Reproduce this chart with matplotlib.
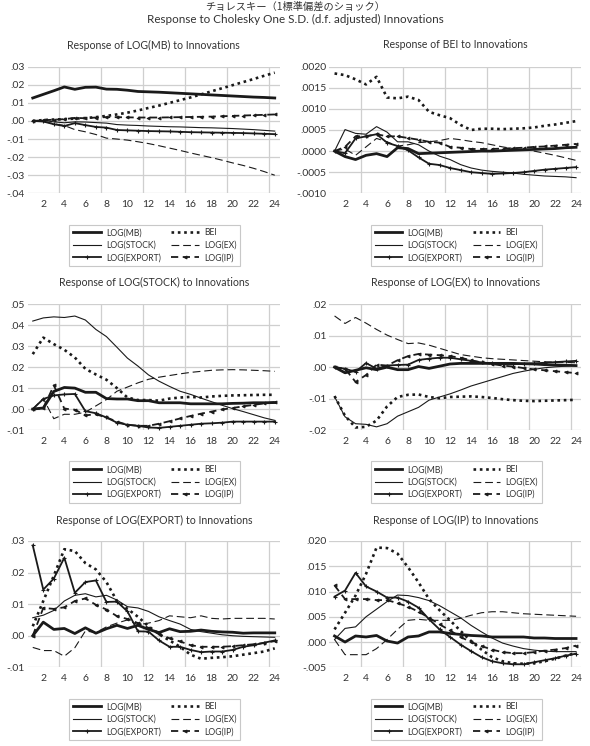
import matplotlib
matplotlib.use('Agg')
import matplotlib.pyplot as plt
from matplotlib.ticker import FixedLocator, FixedFormatter

plt.rcParams['font.family'] = ['Lato', 'DejaVu Sans']

# ---------------- data ----------------
periods = list(range(1, 25))
x_tick_values = list(range(2, 25, 2))
x_tick_labels = [str(v) for v in x_tick_values]

series_names = ['LOG(MB)', 'BEI', 'LOG(STOCK)', 'LOG(EX)', 'LOG(EXPORT)', 'LOG(IP)']

panel_titles = ['Response of LOG(MB) to Innovations',
                'Response of BEI to Innovations',
                'Response of LOG(STOCK) to Innovations',
                'Response of LOG(EX) to Innovations',
                'Response of LOG(EXPORT) to Innovations',
                'Response of LOG(IP) to Innovations']

# Panel 1: response of LOG(MB)
mb_mb = [0.0127, 0.0147, 0.0167, 0.0188, 0.0175, 0.0186, 0.0187, 0.0176, 0.0175, 0.0170, 0.0163, 0.0161,
         0.0159, 0.0156, 0.0153, 0.0150, 0.0147, 0.0144, 0.0141, 0.0138, 0.0135, 0.0132, 0.0130, 0.0127]
mb_bei = [0.0, 0.0005, 0.0008, 0.0010, 0.0013, 0.0016, 0.0021, 0.0028, 0.0036, 0.0046, 0.0058, 0.0072,
          0.0085, 0.0100, 0.0115, 0.0130, 0.0147, 0.0164, 0.0181, 0.0198, 0.0215, 0.0232, 0.0250, 0.0267]
mb_stock = [0.0, 0.0003, -0.0005, -0.0010, -0.0005, -0.0006, -0.0009, -0.0012, -0.0020, -0.0023, -0.0025, -0.0028,
            -0.0030, -0.0032, -0.0033, -0.0035, -0.0037, -0.0038, -0.0040, -0.0042, -0.0045, -0.0048, -0.0052, -0.0056]
mb_ex = [0.0, -0.0003, -0.0015, -0.0025, -0.0048, -0.0060, -0.0075, -0.0095, -0.0100, -0.0106, -0.0115, -0.0125,
         -0.0137, -0.0150, -0.0163, -0.0177, -0.0190, -0.0203, -0.0217, -0.0232, -0.0246, -0.0262, -0.0280, -0.0300]
mb_export = [0.0, -0.0003, -0.0018, -0.0028, -0.0012, -0.0023, -0.0033, -0.0037, -0.0050, -0.0052, -0.0054, -0.0056,
             -0.0057, -0.0058, -0.0060, -0.0062, -0.0063, -0.0064, -0.0065, -0.0066, -0.0067, -0.0069, -0.0071, -0.0073]
mb_ip = [0.0, 0.0004, 0.0007, 0.0010, 0.0017, 0.0015, 0.0019, 0.0021, 0.0021, 0.0020, 0.0019, 0.0019,
         0.0019, 0.0020, 0.0021, 0.0022, 0.0023, 0.0024, 0.0026, 0.0028, 0.0030, 0.0032, 0.0034, 0.0036]

# Panel 2: response of BEI
bei_mb = [0.0, -0.00013, -0.00020, -0.00010, -0.00006, -0.00013, 0.00008, 0.00006, -0.00006, -0.00005, -0.00004, -0.00003,
          -0.00002, -0.00001, 0.0, 0.0, 0.00001, 0.00002, 0.00003, 0.00004, 0.00005, 0.00006, 0.00008, 0.00009]
bei_bei = [0.00184, 0.00180, 0.00170, 0.00158, 0.00176, 0.00127, 0.00125, 0.00129, 0.00121, 0.00093, 0.00085, 0.00078,
           0.00062, 0.00050, 0.00053, 0.00053, 0.00052, 0.00053, 0.00054, 0.00056, 0.00060, 0.00063, 0.00067, 0.00071]
bei_stock = [0.0, 0.00051, 0.00042, 0.00040, 0.00058, 0.00045, 0.00022, 0.00022, 0.00015, 0.0, -0.00012, -0.00020,
             -0.00032, -0.00040, -0.00045, -0.00048, -0.00050, -0.00052, -0.00055, -0.00057, -0.00059, -0.00060, -0.00061, -0.00063]
bei_ex = [0.0, 0.00005, -0.00010, 0.00010, 0.00030, 0.00022, 0.00012, 0.00015, 0.00020, 0.00022, 0.00025, 0.00030,
          0.00027, 0.00023, 0.00020, 0.00015, 0.00010, 0.00006, 0.00003, 0.0, -0.00005, -0.00010, -0.00016, -0.00022]
bei_export = [0.0, -0.00005, 0.00030, 0.00035, 0.00040, 0.00020, 0.00012, 0.00002, -0.00015, -0.00030, -0.00033, -0.00040,
              -0.00045, -0.00050, -0.00052, -0.00054, -0.00053, -0.00052, -0.00050, -0.00047, -0.00044, -0.00042, -0.00040, -0.00038]
bei_ip = [0.0, 0.00010, 0.00035, 0.00035, 0.00040, 0.00035, 0.00035, 0.00031, 0.00027, 0.00022, 0.00020, 0.00010,
          0.00008, 0.00005, 0.00005, 0.00005, 0.00006, 0.00007, 0.00008, 0.00010, 0.00011, 0.00013, 0.00015, 0.00017]

# Panel 3: response of LOG(STOCK)
stock_mb = [0.0, 0.0005, 0.0084, 0.0103, 0.0100, 0.0080, 0.0080, 0.0050, 0.0048, 0.0048, 0.0040, 0.0040,
            0.0030, 0.0030, 0.0030, 0.0025, 0.0025, 0.0025, 0.0025, 0.0027, 0.0028, 0.0030, 0.0030, 0.0031]
stock_bei = [0.0262, 0.0341, 0.0310, 0.0283, 0.0246, 0.0192, 0.0165, 0.0140, 0.0100, 0.0055, 0.0043, 0.0043,
             0.0040, 0.0050, 0.0055, 0.0058, 0.0055, 0.0060, 0.0063, 0.0065, 0.0066, 0.0067, 0.0068, 0.0068]
stock_stock = [0.0420, 0.0435, 0.0440, 0.0437, 0.0444, 0.0425, 0.0380, 0.0346, 0.0295, 0.0243, 0.0205, 0.0163,
               0.0133, 0.0108, 0.0085, 0.0070, 0.0052, 0.0035, 0.0018, 0.0002, -0.0012, -0.0027, -0.0042, -0.0054]
stock_ex = [0.0, 0.0050, -0.0046, -0.0025, -0.0025, -0.0015, 0.0015, 0.0045, 0.0085, 0.0105, 0.0125, 0.0142,
            0.0152, 0.0160, 0.0168, 0.0175, 0.0180, 0.0185, 0.0187, 0.0188, 0.0187, 0.0185, 0.0183, 0.0180]
stock_export = [0.0, 0.0048, 0.0065, 0.0070, 0.0072, -0.0010, -0.0020, -0.0040, -0.0065, -0.0075, -0.0080, -0.0088,
                -0.0090, -0.0085, -0.0080, -0.0075, -0.0070, -0.0068, -0.0065, -0.0060, -0.0060, -0.0060, -0.0060, -0.0060]
stock_ip = [0.0, 0.0003, 0.0113, 0.0002, -0.0003, -0.0030, -0.0025, -0.0040, -0.0060, -0.0075, -0.0080, -0.0080,
            -0.0070, -0.0058, -0.0045, -0.0033, -0.0022, -0.0012, -0.0002, 0.0005, 0.0013, 0.0020, 0.0027, 0.0033]

# Panel 4: response of LOG(EX)
ex_mb = [0.0, -0.0018, -0.0010, -0.0002, -0.0008, 0.0, -0.0008, -0.0008, 0.0002, -0.0004, 0.0003, 0.0010,
         0.0012, 0.0012, 0.0012, 0.0012, 0.0012, 0.0012, 0.0011, 0.0010, 0.0008, 0.0007, 0.0006, 0.0005]
ex_bei = [-0.0092, -0.0155, -0.0192, -0.0190, -0.0170, -0.0125, -0.0095, -0.0088, -0.0087, -0.0095, -0.0099, -0.0095,
          -0.0094, -0.0093, -0.0095, -0.0098, -0.0102, -0.0105, -0.0107, -0.0108, -0.0107, -0.0106, -0.0105, -0.0104]
ex_stock = [-0.0094, -0.0158, -0.0180, -0.0182, -0.0190, -0.0180, -0.0156, -0.0142, -0.0128, -0.0105, -0.0095, -0.0085,
            -0.0073, -0.0060, -0.0050, -0.0040, -0.0030, -0.0020, -0.0013, -0.0007, -0.0002, 0.0001, 0.0003, 0.0005]
ex_ex = [0.0163, 0.0139, 0.0158, 0.0140, 0.0120, 0.0102, 0.0088, 0.0075, 0.0077, 0.0070, 0.0060, 0.0050,
         0.0040, 0.0035, 0.0030, 0.0027, 0.0025, 0.0023, 0.0021, 0.0019, 0.0017, 0.0016, 0.0015, 0.0014]
ex_export = [0.0, -0.0005, -0.0015, 0.0013, -0.0005, 0.0005, 0.0007, 0.0008, 0.0023, 0.0027, 0.0030, 0.0030,
             0.0025, 0.0020, 0.0015, 0.0012, 0.0010, 0.0010, 0.0011, 0.0012, 0.0014, 0.0016, 0.0018, 0.0020]
ex_ip = [0.0, -0.0005, -0.0047, -0.0025, 0.0008, 0.0005, 0.0022, 0.0035, 0.0042, 0.0040, 0.0038, 0.0035,
         0.0030, 0.0022, 0.0015, 0.0010, 0.0005, 0.0002, -0.0003, -0.0007, -0.0010, -0.0013, -0.0016, -0.0019]

# Panel 5: response of LOG(EXPORT)
export_mb = [0.0, 0.0043, 0.0020, 0.0023, 0.0007, 0.0025, 0.0008, 0.0022, 0.0033, 0.0023, 0.0033, 0.0020,
             0.0010, 0.0022, 0.0013, 0.0014, 0.0018, 0.0014, 0.0012, 0.0011, 0.0008, 0.0009, 0.0009, 0.0009]
export_bei = [0.0030, 0.0110, 0.0190, 0.0274, 0.0268, 0.0230, 0.0210, 0.0170, 0.0110, 0.0085, 0.0060, 0.0030,
              0.0005, -0.0015, -0.0035, -0.0060, -0.0073, -0.0070, -0.0068, -0.0065, -0.0060, -0.0055, -0.0050, -0.0040]
export_stock = [0.0057, 0.0065, 0.0080, 0.0110, 0.0128, 0.0133, 0.0123, 0.0128, 0.0113, 0.0092, 0.0088, 0.0077,
                0.0060, 0.0048, 0.0037, 0.0020, 0.0013, 0.0008, 0.0003, 0.0, -0.0002, -0.0003, -0.0004, -0.0005]
export_ex = [-0.0037, -0.0047, -0.0047, -0.0065, -0.0038, 0.0015, 0.0010, 0.0028, 0.0040, 0.0050, 0.0035, 0.0040,
             0.0048, 0.0063, 0.0060, 0.0057, 0.0063, 0.0055, 0.0053, 0.0055, 0.0055, 0.0055, 0.0055, 0.0053]
export_export = [0.0286, 0.0146, 0.0181, 0.0247, 0.0136, 0.0170, 0.0175, 0.0107, 0.0108, 0.0077, 0.0014, 0.0013,
                 -0.0015, -0.0035, -0.0035, -0.0045, -0.0052, -0.0050, -0.0050, -0.0045, -0.0035, -0.0030, -0.0022, -0.0015]
export_ip = [0.0, 0.0088, 0.0085, 0.0090, 0.0110, 0.0118, 0.0098, 0.0083, 0.0062, 0.0053, 0.0040, 0.0025,
             0.0005, -0.0008, -0.0018, -0.0030, -0.0035, -0.0035, -0.0035, -0.0033, -0.0030, -0.0027, -0.0023, -0.0017]

# Panel 6: response of LOG(IP)
ip_mb = [0.0012, 0.0, 0.0012, 0.0010, 0.0013, 0.0002, -0.0002, 0.0010, 0.0012, 0.0020, 0.0020, 0.0017,
         0.0015, 0.0013, 0.0012, 0.0010, 0.0010, 0.0010, 0.0010, 0.0008, 0.0008, 0.0007, 0.0007, 0.0007]
ip_bei = [0.0025, 0.0058, 0.0092, 0.0135, 0.0187, 0.0186, 0.0175, 0.0148, 0.0118, 0.0085, 0.0063, 0.0043,
          0.0022, 0.0002, -0.0015, -0.0030, -0.0038, -0.0042, -0.0043, -0.0042, -0.0038, -0.0033, -0.0027, -0.0022]
ip_stock = [0.0005, 0.0027, 0.0030, 0.0050, 0.0065, 0.0080, 0.0093, 0.0092, 0.0088, 0.0082, 0.0072, 0.0060,
            0.0048, 0.0033, 0.0020, 0.0008, -0.0002, -0.0008, -0.0013, -0.0016, -0.0018, -0.0019, -0.0019, -0.0019]
ip_ex = [0.0005, -0.0025, -0.0025, -0.0025, -0.0013, 0.0005, 0.0025, 0.0043, 0.0045, 0.0043, 0.0043, 0.0043,
         0.0047, 0.0053, 0.0058, 0.0060, 0.0060, 0.0058, 0.0056, 0.0055, 0.0054, 0.0053, 0.0052, 0.0051]
ip_export = [0.0090, 0.0102, 0.0137, 0.0110, 0.0100, 0.0088, 0.0088, 0.0080, 0.0068, 0.0045, 0.0025, 0.0010,
             -0.0005, -0.0018, -0.0030, -0.0038, -0.0042, -0.0044, -0.0044, -0.0040, -0.0036, -0.0032, -0.0027, -0.0023]
ip_ip = [0.0112, 0.0085, 0.0085, 0.0085, 0.0083, 0.0083, 0.0077, 0.0070, 0.0060, 0.0048, 0.0035, 0.0023,
         0.0010, 0.0, -0.0008, -0.0015, -0.0020, -0.0022, -0.0022, -0.0020, -0.0017, -0.0015, -0.0012, -0.0007]

panel_series = [
    [mb_mb, mb_bei, mb_stock, mb_ex, mb_export, mb_ip],
    [bei_mb, bei_bei, bei_stock, bei_ex, bei_export, bei_ip],
    [stock_mb, stock_bei, stock_stock, stock_ex, stock_export, stock_ip],
    [ex_mb, ex_bei, ex_stock, ex_ex, ex_export, ex_ip],
    [export_mb, export_bei, export_stock, export_ex, export_export, export_ip],
    [ip_mb, ip_bei, ip_stock, ip_ex, ip_export, ip_ip],
]

y_ticks = [
    [-0.04, -0.03, -0.02, -0.01, 0.00, 0.01, 0.02, 0.03],
    [-0.0010, -0.0005, 0.0, 0.0005, 0.0010, 0.0015, 0.0020],
    [-0.01, 0.00, 0.01, 0.02, 0.03, 0.04, 0.05],
    [-0.02, -0.01, 0.00, 0.01, 0.02],
    [-0.01, 0.00, 0.01, 0.02, 0.03],
    [-0.005, 0.000, 0.005, 0.010, 0.015, 0.020],
]
y_tick_labels = [
    ['-.04', '-.03', '-.02', '-.01', '.00', '.01', '.02', '.03'],
    ['-.0010', '-.0005', '.0000', '.0005', '.0010', '.0015', '.0020'],
    ['-.01', '.00', '.01', '.02', '.03', '.04', '.05'],
    ['-.02', '-.01', '.00', '.01', '.02'],
    ['-.01', '.00', '.01', '.02', '.03'],
    ['-.005', '.000', '.005', '.010', '.015', '.020'],
]

# ---------------- styles ----------------
LC = '#1a1a1a'
styles = {
    'LOG(MB)': dict(color=LC, lw=2.0, ls='-'),
    'BEI': dict(color=LC, lw=1.9, ls=(0, (1, 1.4)), dash_capstyle='butt'),
    'LOG(STOCK)': dict(color=LC, lw=0.8, ls='-'),
    'LOG(EX)': dict(color=LC, lw=0.8, ls=(0, (7, 3.5))),
    'LOG(EXPORT)': dict(color=LC, lw=1.3, ls='-', marker='+', ms=3.5, mew=0.8),
    'LOG(IP)': dict(color=LC, lw=1.3, ls=(0, (4, 2.5)), marker='<', ms=2.2, mew=0.6),
}

W, H = 590, 746
fig = plt.figure(figsize=(W / 100, H / 100), dpi=100)

col_x = [(27.5, 280.0), (329.3, 581.3)]
row_y = [(66.7, 193.3), (304.3, 430.0), (541.0, 667.3)]
title_y = [45, 282, 520]

GRID = '#cfcfcf'

for i in range(6):
    r, c = divmod(i, 2)
    x0, x1 = col_x[c]
    y0, y1 = row_y[r]
    ax = fig.add_axes([x0 / W, 1 - y1 / H, (x1 - x0) / W, (y1 - y0) / H])
    handles = {}
    for name, vals in zip(series_names, panel_series[i]):
        ln, = ax.plot(periods, vals, **styles[name], label=name)
        handles[name] = ln
    ax.set_xlim(0.5, 24.5)
    ax.set_ylim(y_ticks[i][0], y_ticks[i][-1])
    ax.yaxis.set_major_locator(FixedLocator(y_ticks[i]))
    ax.yaxis.set_major_formatter(FixedFormatter(y_tick_labels[i]))
    ax.xaxis.set_major_locator(FixedLocator(x_tick_values))
    ax.xaxis.set_major_formatter(FixedFormatter(x_tick_labels))
    ax.xaxis.set_minor_locator(FixedLocator([3.5, 7.5, 11.5, 15.5, 19.5, 23.5]))
    ax.grid(True, axis='y', which='major', color=GRID, lw=0.9)
    ax.grid(True, axis='x', which='minor', color=GRID, lw=0.9)
    ax.set_axisbelow(True)
    for s in ax.spines.values():
        s.set_visible(False)
    ax.tick_params(axis='both', which='both', length=0, labelsize=7.5, colors='#333333', pad=2)
    ax.tick_params(axis='x', pad=5)

    fig.text(((x0 + x1) / 2) / W, 1 - title_y[r] / H, panel_titles[i],
             ha='center', va='center', fontsize=7.6, color='#333333')

    order = ['LOG(MB)', 'LOG(STOCK)', 'LOG(EXPORT)', 'BEI', 'LOG(EX)', 'LOG(IP)']
    leg = fig.legend([handles[n] for n in order], order, ncol=2,
                     loc='upper center',
                     bbox_to_anchor=(((x0 + x1) / 2 + 1) / W, 1 - (y1 + 27) / H),
                     fontsize=6.2, frameon=True, fancybox=False, handlelength=3.2,
                     handletextpad=0.6, columnspacing=1.2, labelspacing=0.4,
                     borderpad=0.45, edgecolor='#c8c8c8', framealpha=1)
    leg.get_frame().set_linewidth(0.8)
    for t in leg.get_texts():
        t.set_color('#333333')

fig.text(0.5, 1 - 19 / H, 'Response to Cholesky One S.D. (d.f. adjusted) Innovations',
         ha='center', va='center', fontsize=8.4, color='#333333')
fig.text(0.5, 1 - 1 / H, 'チョレスキー（1標準偏差のショック）',
         ha='center', va='top', fontsize=7.4, color='#333333',
         family=['Noto Sans CJK JP', 'DejaVu Sans'])

fig.savefig('out.png', dpi=100)
